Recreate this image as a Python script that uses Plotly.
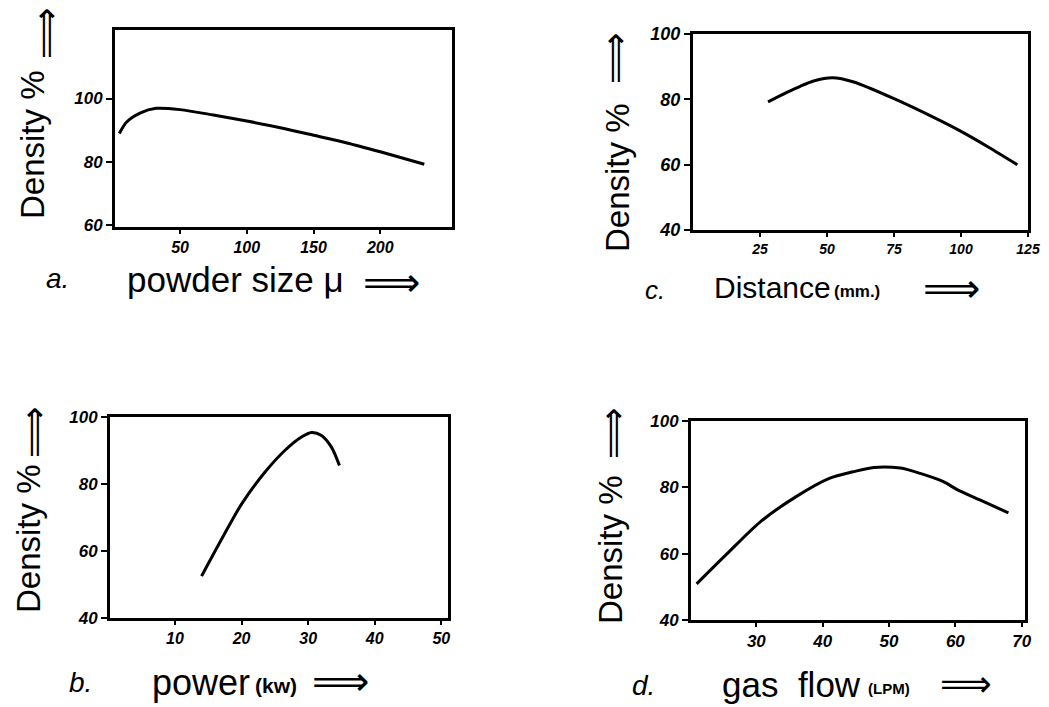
import plotly.graph_objects as go

W, H = 1049, 707

# ---- data ----
powder_size = [4.5, 10, 20, 32, 50, 75, 100, 125, 150, 175, 200, 233]
density_a = [89.0, 92.6, 95.4, 96.9, 96.5, 94.8, 92.9, 90.8, 88.4, 86.0, 83.2, 79.3]

distance_mm = [28, 35, 40, 45, 52, 60, 75, 90, 100, 110, 121]
density_c = [79.2, 82.1, 84.0, 85.6, 86.6, 85.3, 80.2, 74.4, 70.2, 65.5, 60.0]

power_kw = [14, 17, 20, 23.5, 26.5, 29, 30.5, 32, 33.5, 34.7]
density_b = [52.5, 63.5, 74.0, 83.5, 90.0, 94.0, 95.4, 94.5, 91.0, 85.5]

gas_flow_lpm = [21, 25.6, 30.6, 36, 41, 44.6, 47.7, 51.7, 54.7, 58.2, 60.2, 63.7, 68]
density_d = [50.9, 60.0, 69.6, 77.2, 82.7, 84.7, 86.0, 85.8, 84.2, 81.7, 79.4, 76.2, 72.3]

ticks_a_x = [50, 100, 150, 200]
ticks_a_y = [60, 80, 100]
ticks_c_x = [25, 50, 75, 100, 125]
ticks_b_x = [10, 20, 30, 40, 50]
ticks_d_x = [30, 40, 50, 60, 70]
ticks_y_40 = [40, 60, 80, 100]

HAND = "Liberation Sans, DejaVu Sans"
TICKF = "Liberation Sans, DejaVu Sans"
ARROWF = "DejaVu Sans"


def px(x):
    return x / W


def py(y):
    return 1 - y / H


fig = go.Figure()
line = dict(color="black", width=3, shape="spline", smoothing=0.8)
fig.add_trace(go.Scatter(x=powder_size, y=density_a, mode="lines", line=line, xaxis="x", yaxis="y"))
fig.add_trace(go.Scatter(x=distance_mm, y=density_c, mode="lines", line=line, xaxis="x2", yaxis="y2"))
fig.add_trace(go.Scatter(x=power_kw, y=density_b, mode="lines", line=line, xaxis="x3", yaxis="y3"))
fig.add_trace(go.Scatter(x=gas_flow_lpm, y=density_d, mode="lines", line=line, xaxis="x4", yaxis="y4"))


def xa(domain, rng, tv, anchor, size):
    return dict(domain=domain, range=rng, tickvals=tv, anchor=anchor, showline=True, mirror=True,
                linecolor="black", linewidth=3, ticks="outside", ticklen=4, tickwidth=2,
                tickcolor="black", showgrid=False, zeroline=False,
                tickfont=dict(family=TICKF, size=size, color="black", weight="bold", style="italic"))


def ya(domain, rng, tv, anchor, size):
    return dict(domain=domain, range=rng, tickvals=tv, anchor=anchor, showline=True, mirror=True,
                linecolor="black", linewidth=3, ticks="outside", ticklen=6, tickwidth=2,
                tickcolor="black", showgrid=False, zeroline=False,
                tickfont=dict(family=TICKF, size=size, color="black", weight="bold", style="italic"))


layout = dict(
    width=W, height=H, showlegend=False,
    paper_bgcolor="white", plot_bgcolor="white",
    margin=dict(l=0, r=0, t=0, b=0, autoexpand=False),
    xaxis=xa([px(115), px(452)], [1.25, 253.75], ticks_a_x, "y", 16),
    yaxis=ya([py(227), py(30)], [59.5, 121.6], ticks_a_y, "x", 17),
    xaxis2=xa([px(693), px(1028)], [0, 125], ticks_c_x, "y2", 14),
    yaxis2=ya([py(230), py(34)], [40, 100], ticks_y_40, "x2", 18),
    xaxis3=xa([px(110), px(448)], [0.25, 51], ticks_b_x, "y3", 16),
    yaxis3=ya([py(618), py(417)], [40, 100], ticks_y_40, "x3", 17),
    xaxis4=xa([px(691), px(1025)], [20.15, 70.5], ticks_d_x, "y4", 17),
    yaxis4=ya([py(620), py(421)], [40, 100], ticks_y_40, "x4", 17),
)
fig.update_layout(**layout)


def ann(text, x, y, size, angle=0, xanchor="center", yanchor="middle", family=HAND,
        weight="normal", style="normal"):
    fig.add_annotation(text=text, x=px(x), y=py(y), xref="paper", yref="paper", showarrow=False,
                       textangle=angle, xanchor=xanchor, yanchor=yanchor,
                       font=dict(family=family, size=size, color="black", weight=weight, style=style))


# y titles + up arrows
for (cx, cy, ax, ay) in [(33, 145, 46, 33), (617, 178, 615, 58), (28, 539, 33, 432), (610, 550, 612, 433)]:
    ann("Density %", cx, cy, 33, angle=-90)
    ann("⟹", ax, ay, 36, angle=-90, family=ARROWF)

# panel a
ann("a.", 57, 278, 28, style="italic")
ann("powder size μ", 125, 279, 35, xanchor="left")
ann("⟹", 391, 257, 40, yanchor="top", family=ARROWF)
# panel c
ann("c.", 655, 290, 26, style="italic")
ann("Distance", 712, 287, 30, xanchor="left")
ann("(mm.)", 832, 291, 17, xanchor="left", family=TICKF, weight="bold")
ann("⟹", 951, 263, 40, yanchor="top", family=ARROWF)
# panel b
ann("b.", 80, 682, 28, style="italic")
ann("power", 150, 682, 36, xanchor="left")
ann("(kw)", 253, 685, 21, xanchor="left", family=TICKF, weight="bold")
ann("⟹", 340, 706, 40, yanchor="bottom", family=ARROWF)
# panel d
ann("d.", 643, 685, 28, style="italic")
ann("gas  flow", 720, 684, 35, xanchor="left")
ann("(LPM)", 866, 688, 15, xanchor="left", family=TICKF, weight="bold")
ann("⟹", 966, 706, 36, yanchor="bottom", family=ARROWF)

fig.write_html("out.html")
